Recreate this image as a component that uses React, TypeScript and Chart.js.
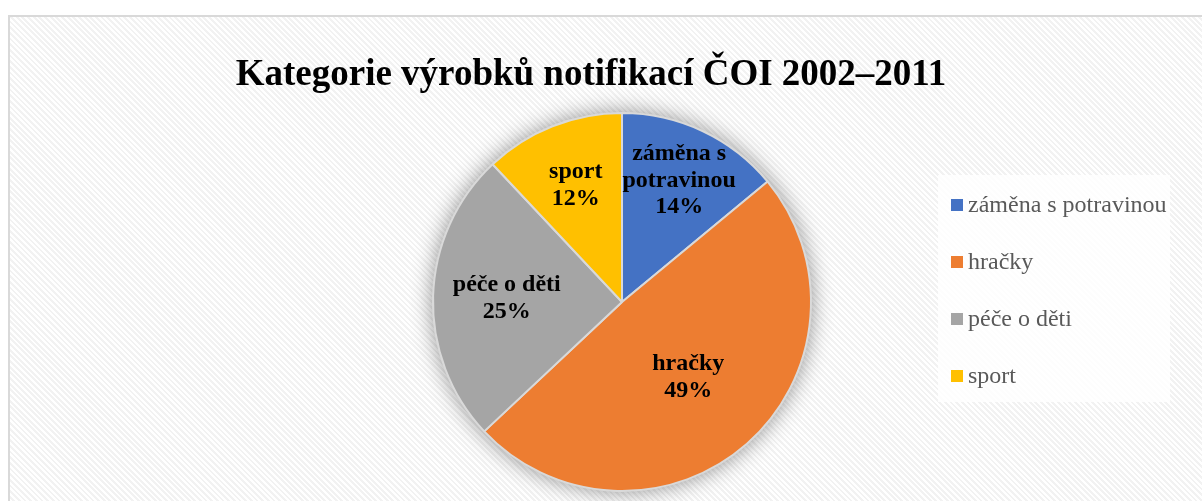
import { useEffect, useRef } from "react";
import { Chart, registerables } from "chart.js";

Chart.register(...registerables);

const titleText = "Kategorie výrobků notifikací ČOI 2002–2011";
const categories = ["záměna s potravinou", "hračky", "péče o děti", "sport"];
const values = [14, 49, 25, 12];
const colors = ["#4472C4", "#ED7D31", "#A5A5A5", "#FFC000"];

// style constants
const labelRadiusRatio = [0.71, 0.53, 0.61, 0.665];
const SERIF = "'Liberation Serif', 'Times New Roman', serif";

function wrapText(ctx: CanvasRenderingContext2D, text: string, maxW: number): string[] {
  const words = text.split(" ");
  const lines: string[] = [];
  let cur = "";
  for (const w of words) {
    const test = cur ? cur + " " + w : w;
    if (ctx.measureText(test).width > maxW && cur) {
      lines.push(cur);
      cur = w;
    } else cur = test;
  }
  if (cur) lines.push(cur);
  return lines;
}

const decorPlugin = {
  id: "decor",
  beforeDatasetsDraw(chart: any) {
    const meta = chart.getDatasetMeta(0);
    const arc = meta.data[0];
    if (!arc) return;
    const { x, y, outerRadius } = arc.getProps(["x", "y", "outerRadius"], true);
    const ctx = chart.ctx as CanvasRenderingContext2D;
    ctx.save();
    ctx.shadowColor = "rgba(0,0,0,0.45)";
    ctx.shadowBlur = 22;
    ctx.fillStyle = "#cccccc";
    ctx.beginPath();
    ctx.arc(x, y, outerRadius, 0, Math.PI * 2);
    ctx.fill();
    ctx.restore();
  },
  afterDatasetsDraw(chart: any) {
    const ctx = chart.ctx as CanvasRenderingContext2D;
    const meta = chart.getDatasetMeta(0);
    const data = chart.data.datasets[0].data as number[];
    const total = data.reduce((a, b) => a + b, 0);
    ctx.save();
    ctx.font = `bold 24px ${SERIF}`;
    ctx.fillStyle = "#000000";
    ctx.textAlign = "center";
    ctx.textBaseline = "middle";
    meta.data.forEach((el: any, i: number) => {
      const { x, y, startAngle, endAngle, outerRadius } = el.getProps(
        ["x", "y", "startAngle", "endAngle", "outerRadius"],
        true
      );
      const mid = (startAngle + endAngle) / 2;
      const r = outerRadius * labelRadiusRatio[i];
      const cx = x + Math.cos(mid) * r;
      const cy = y + Math.sin(mid) * r;
      const lines = wrapText(ctx, chart.data.labels[i], 130);
      lines.push(Math.round((data[i] / total) * 100) + "%");
      const lh = 26.5;
      const top = cy - ((lines.length - 1) * lh) / 2;
      lines.forEach((t, k) => ctx.fillText(t, cx, top + k * lh));
    });
    ctx.restore();
  },
  afterDraw(chart: any) {
    const ctx = chart.ctx as CanvasRenderingContext2D;
    ctx.save();
    // title
    ctx.font = `bold 37px ${SERIF}`;
    ctx.fillStyle = "#000000";
    ctx.textAlign = "center";
    ctx.textBaseline = "alphabetic";
    ctx.fillText(titleText, 581, 68);
    // legend
    ctx.fillStyle = "rgba(255,255,255,0.85)";
    ctx.fillRect(928, 158, 232, 227);
    const bg = chart.data.datasets[0].backgroundColor as string[];
    ctx.font = `24px ${SERIF}`;
    ctx.textAlign = "left";
    ctx.textBaseline = "middle";
    (chart.data.labels as string[]).forEach((lab, i) => {
      const cy = 188 + i * 57;
      ctx.fillStyle = bg[i];
      ctx.fillRect(941, cy - 6, 12, 12);
      ctx.fillStyle = "#595959";
      ctx.fillText(lab, 958, cy + 1);
    });
    ctx.restore();
  },
};

export default function App() {
  const ref = useRef<HTMLCanvasElement>(null);
  useEffect(() => {
    const chart = new Chart(ref.current!, {
      type: "pie",
      data: {
        labels: categories,
        datasets: [
          {
            data: values,
            backgroundColor: colors,
            borderColor: "#d9d9d9",
            borderWidth: 2,
            radius: 189,
          } as any,
        ],
      },
      options: {
        responsive: false,
        animation: false,
        layout: { padding: { left: 32, right: 0, top: 86, bottom: 0 } },
        plugins: {
          legend: { display: false },
          title: { display: false },
          tooltip: { enabled: false },
        },
      },
      plugins: [decorPlugin],
    });
    return () => chart.destroy();
  }, []);
  return (
    <div
      style={{
        position: "fixed",
        left: 8,
        top: 15,
        width: 1194,
        height: 486,
        boxSizing: "border-box",
        borderLeft: "2px solid #d9d9d9",
        borderTop: "2px solid #d9d9d9",
        background:
          "repeating-linear-gradient(45deg, #ffffff 0px, #ffffff 2px, #f2f2f2 2px, #f2f2f2 4px)",
        overflow: "hidden",
      }}
    >
      <canvas ref={ref} width={1192} height={484} style={{ display: "block", width: 1192, height: 484 }} />
    </div>
  );
}
